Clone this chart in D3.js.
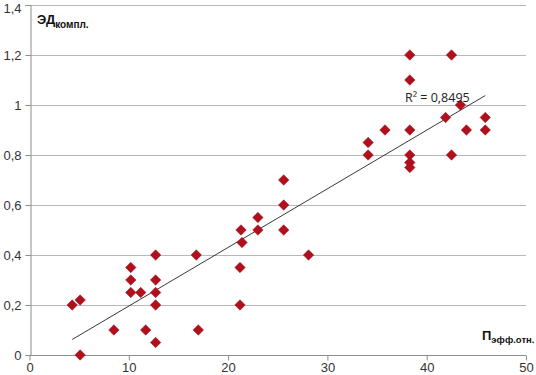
<!DOCTYPE html>
<html lang="ru">
<head>
<meta charset="UTF-8">
<title>ЭД vs П</title>
<style>
    body{
        margin: 0;
        background: white;
        font-family: "Liberation Sans", Arial, sans-serif;
    }
    #chart{
        width: 536px;
        height: 375px;
    }
</style>
</head>
<body>
<div id="chart"></div>
<script src="https://d3js.org/d3.v7.min.js"></script>
<script>

// points (П эфф.отн., ЭД компл.)
let pEff = [4.3, 5.1, 5.1, 8.5, 10.2, 10.2, 10.2, 11.2, 11.7, 12.7, 12.7, 12.7, 12.7, 12.7,
            16.8, 17, 21.2, 21.2, 21.4, 21.3, 23, 23, 25.6, 25.6, 25.6, 28.1,
            34.1, 34.1, 35.8, 38.3, 38.3, 38.3, 38.3, 38.3, 38.3, 41.9, 42.5, 42.5, 43.4, 44, 45.9, 45.9]
let edKompl = [0.2, 0.22, 0, 0.1, 0.35, 0.3, 0.25, 0.25, 0.1, 0.4, 0.3, 0.25, 0.2, 0.05,
               0.4, 0.1, 0.2, 0.35, 0.45, 0.5, 0.55, 0.5, 0.7, 0.6, 0.5, 0.4,
               0.85, 0.8, 0.9, 1.2, 1.1, 0.9, 0.8, 0.77, 0.75, 0.95, 1.2, 0.8, 1.0, 0.9, 0.95, 0.9]

let xTicks = [0, 10, 20, 30, 40, 50]
let yTicks = [0, 0.2, 0.4, 0.6, 0.8, 1, 1.2, 1.4]
let r2Label = "R² = 0,8495"

let w = 536, h = 375

let svg = d3.select("#chart")
    .append("svg")
    .attr("width", w)
    .attr("height", h)

let x = d3.scaleLinear().domain([0, 50]).range([29.5, 526])
let y = d3.scaleLinear().domain([0, 1.4]).range([355, 5])

let fmt = d => String(d).replace(".", ",")

// gridlines
svg.append("g")
    .selectAll("line")
    .data(yTicks)
    .join("line")
    .attr("x1", x(0))
    .attr("x2", x(50))
    .attr("y1", d => Math.round(y(d)) + 0.5)
    .attr("y2", d => Math.round(y(d)) + 0.5)
    .attr("stroke", d => d == 0 ? "#8c8c8c" : "#b8b8b8")
    .attr("stroke-width", 1.2)

// y axis
let yAxis = svg.append("g")
    .attr("transform", `translate(${Math.round(x(0)) + 0.5},0)`)
    .call(d3.axisLeft(y).tickValues(yTicks).tickFormat(fmt).tickSize(5).tickPadding(4))
yAxis.select(".domain").attr("stroke", "#8c8c8c")
yAxis.selectAll(".tick line").attr("stroke", "#8c8c8c")
yAxis.selectAll("text")
    .attr("fill", "#333")
    .style("font-size", "13px")
    .style("font-family", "'Liberation Sans', Arial, sans-serif")
// top label sits on the edge, nudge it down so it is not clipped
yAxis.selectAll("text").filter(d => d == 1.4).attr("dy", "0.55em")

// x axis
let xAxis = svg.append("g")
    .attr("transform", `translate(0,${Math.round(y(0)) + 0.5})`)
    .call(d3.axisBottom(x).tickValues(xTicks).tickSize(5).tickPadding(2))
xAxis.select(".domain").remove()
xAxis.selectAll(".tick line").attr("stroke", "#8c8c8c")
xAxis.selectAll("text")
    .attr("fill", "#333")
    .style("font-size", "13px")
    .style("font-family", "'Liberation Sans', Arial, sans-serif")

// linear trend
let pts = pEff.map((d, i) => ({p: d, e: edKompl[i]}))
let mx = d3.mean(pts, d => d.p), my = d3.mean(pts, d => d.e)
let slope = d3.sum(pts, d => (d.p - mx) * (d.e - my)) / d3.sum(pts, d => (d.p - mx) ** 2)
let icpt = my - slope * mx
let ext = d3.extent(pEff)

svg.append("line")
    .attr("x1", x(ext[0]))
    .attr("y1", y(icpt + slope * ext[0]))
    .attr("x2", x(ext[1]))
    .attr("y2", y(icpt + slope * ext[1]))
    .attr("stroke", "#222")
    .attr("stroke-width", 0.9)

// diamonds
svg.append("g")
    .selectAll("path")
    .data(pts)
    .join("path")
    .attr("d", d3.symbol(d3.symbolDiamond2, 70))
    .attr("transform", d => `translate(${x(d.p)},${y(d.e)})`)
    .attr("fill", "#b0101c")
    .attr("stroke", "#9a0d18")
    .attr("stroke-width", 0.5)

// R² label
svg.append("text")
    .attr("x", 405)
    .attr("y", 102)
    .attr("fill", "#222")
    .style("font-size", "12.5px")
    .style("font-family", "'Open Sans', 'Noto Sans', sans-serif")
    .text(r2Label)

// axis titles
let yTitle = svg.append("text")
    .attr("x", 37)
    .attr("y", 24)
    .attr("fill", "#111")
    .style("font-weight", "bold")
    .style("font-family", "'Liberation Sans', Arial, sans-serif")
yTitle.append("tspan").style("font-size", "13px").text("ЭД")
yTitle.append("tspan").attr("dy", 4).style("font-size", "10px").text("компл.")

let xTitle = svg.append("text")
    .attr("x", 482)
    .attr("y", 340)
    .attr("fill", "#111")
    .style("font-weight", "bold")
    .style("font-family", "'Liberation Sans', Arial, sans-serif")
xTitle.append("tspan").style("font-size", "13px").text("П")
xTitle.append("tspan").attr("dy", 3).style("font-size", "9.5px").text("эфф.отн.")

</script>
</body>
</html>
